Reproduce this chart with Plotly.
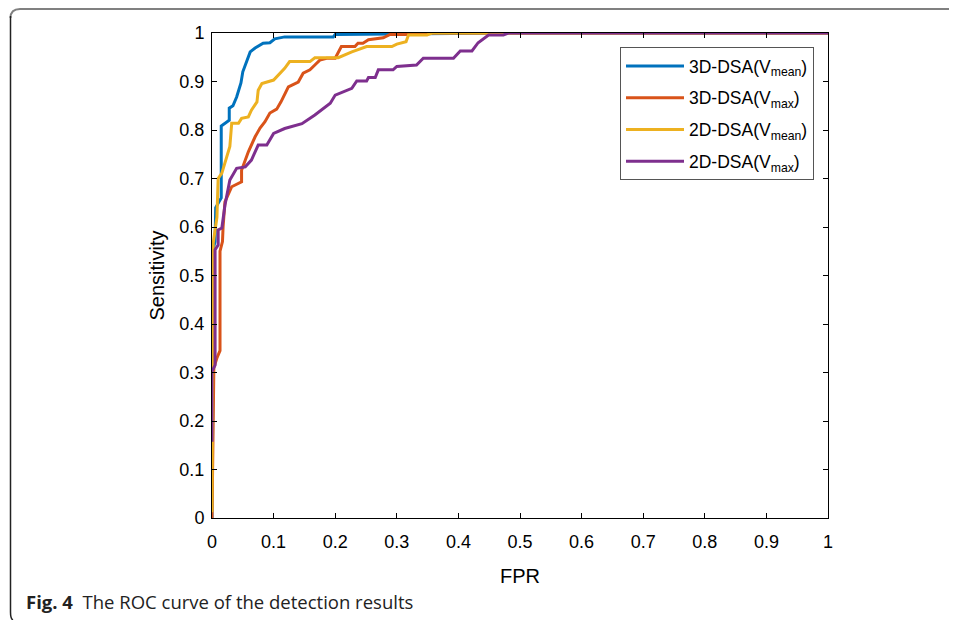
import plotly.graph_objects as go

# ---- data ----
series_names = ["3D-DSA(V<sub>mean</sub>)", "3D-DSA(V<sub>max</sub>)",
                "2D-DSA(V<sub>mean</sub>)", "2D-DSA(V<sub>max</sub>)"]
series_colors = ["#0072BD", "#D95319", "#EDB120", "#7E2F8E"]

fpr_3d_mean = [0, 0, 0.003, 0.005, 0.006, 0.015, 0.015, 0.028, 0.028, 0.034, 0.04, 0.047,
               0.05, 0.062, 0.07, 0.083, 0.094, 0.102, 0.118, 0.197, 0.2, 0.5, 1]
tpr_3d_mean = [0, 0.01, 0.56, 0.57, 0.64, 0.66, 0.808, 0.82, 0.845, 0.85, 0.868, 0.897,
               0.92, 0.961, 0.969, 0.979, 0.98, 0.988, 0.992, 0.992, 0.997, 1.0, 1.0]

fpr_3d_max = [0, 0.003, 0.008, 0.013, 0.013, 0.017, 0.018, 0.021, 0.032, 0.048, 0.048, 0.052,
              0.059, 0.07, 0.078, 0.086, 0.094, 0.105, 0.112, 0.124, 0.14, 0.148, 0.159,
              0.167, 0.175, 0.186, 0.2, 0.21, 0.232, 0.237, 0.245, 0.254, 0.278, 0.289,
              0.34, 0.35, 1]
tpr_3d_max = [0, 0.31, 0.33, 0.345, 0.55, 0.57, 0.6, 0.652, 0.683, 0.693, 0.717, 0.73,
              0.755, 0.786, 0.804, 0.817, 0.835, 0.843, 0.858, 0.889, 0.899, 0.917, 0.924,
              0.934, 0.944, 0.948, 0.948, 0.972, 0.972, 0.979, 0.979, 0.986, 0.99, 0.997,
              0.997, 1.0, 1.0]

fpr_2d_mean = [0, 0.002, 0.008, 0.010, 0.016, 0.029, 0.032, 0.043, 0.048, 0.059, 0.064,
               0.073, 0.075, 0.081, 0.1, 0.11, 0.118, 0.126, 0.159, 0.167, 0.205, 0.227,
               0.251, 0.292, 0.3, 0.315, 0.319, 0.349, 0.357, 1]
tpr_2d_mean = [0.012, 0.567, 0.62, 0.70, 0.711, 0.766, 0.814, 0.814, 0.824, 0.827, 0.841,
               0.858, 0.882, 0.896, 0.903, 0.917, 0.927, 0.941, 0.941, 0.949, 0.949, 0.961,
               0.972, 0.972, 0.977, 0.982, 0.996, 0.996, 1.0, 1.0]

fpr_2d_max = [0, 0, 0.005, 0.005, 0.01, 0.01, 0.016, 0.021, 0.029, 0.04, 0.054, 0.064, 0.07,
              0.075, 0.089, 0.1, 0.118, 0.137, 0.146, 0.167, 0.192, 0.2, 0.227, 0.235,
              0.251, 0.254, 0.265, 0.27, 0.294, 0.3, 0.332, 0.343, 0.392, 0.403, 0.422,
              0.432, 0.449, 0.473, 0.481, 1]
tpr_2d_max = [0.157, 0.302, 0.315, 0.553, 0.563, 0.594, 0.598, 0.645, 0.697, 0.721, 0.724,
              0.738, 0.755, 0.769, 0.769, 0.793, 0.803, 0.81, 0.813, 0.831, 0.855, 0.872,
              0.886, 0.901, 0.901, 0.908, 0.908, 0.924, 0.924, 0.931, 0.934, 0.948, 0.948,
              0.963, 0.963, 0.98, 0.996, 0.996, 1.0, 1.0]

tick_vals = [0, 0.1, 0.2, 0.3, 0.4, 0.5, 0.6, 0.7, 0.8, 0.9, 1]
tick_text = ["0", "0.1", "0.2", "0.3", "0.4", "0.5", "0.6", "0.7", "0.8", "0.9", "1"]

x_title = "FPR"
y_title = "Sensitivity"
caption = "<b>Fig. 4</b>  The ROC curve of the detection results"

# ---- figure ----
# the page body has an 8px margin, so the figure is placed at (8, 8) in the window
OFF = 8
PAGE_W, PAGE_H = 957, 620
W, H = PAGE_W - OFF, PAGE_H - OFF
# plot area in window pixels: x 212..828, y 33..518
L, T = 212 - OFF, 33 - OFF
R = W - (828 - OFF)
B = H - (518 - OFF)
PW, PH = W - L - R, H - T - B

def px(x):  # window px -> paper x
    return (x - OFF - L) / PW

def py(y):  # window px -> paper y
    return (H - B - (y - OFF)) / PH

fig = go.Figure()
xs = [fpr_3d_mean, fpr_3d_max, fpr_2d_mean, fpr_2d_max]
ys = [tpr_3d_mean, tpr_3d_max, tpr_2d_mean, tpr_2d_max]
for i, (name, color, x, y) in enumerate(zip(series_names, series_colors, xs, ys)):
    fig.add_trace(go.Scatter(x=x, y=y, mode="lines", name=name, legendgroup=f"g{i}",
                             line=dict(color=color, width=3), cliponaxis=False))

axis_common = dict(
    range=[0, 1], tickmode="array", tickvals=tick_vals, ticktext=tick_text,
    ticks="inside", ticklen=5, tickcolor="black", tickwidth=1,
    showline=True, linecolor="black", linewidth=1, mirror="ticks",
    showgrid=False, zeroline=False,
    tickfont=dict(family="Liberation Sans, Arial", size=18, color="black"),
)

fig.update_layout(
    width=W, height=H,
    margin=dict(l=L, r=R, t=T, b=B, autoexpand=False),
    paper_bgcolor="white", plot_bgcolor="white",
    xaxis=dict(**axis_common, ticklabelstandoff=7,
               title=dict(text=x_title, standoff=18,
                          font=dict(family="Liberation Sans, Arial", size=20, color="black"))),
    yaxis=dict(**axis_common, ticklabelstandoff=3,
               title=dict(text=y_title, standoff=9,
                          font=dict(family="Liberation Sans, Arial", size=20, color="black"))),
    legend=dict(x=px(620), y=py(47), xanchor="left", yanchor="top",
                bgcolor="white", bordercolor="#555555", borderwidth=1,
                font=dict(family="Liberation Sans, Arial", size=17.5, color="black"),
                itemwidth=58, traceorder="grouped", tracegroupgap=6),
    showlegend=True,
)

# outer frame (decorative rounded border of the figure panel)
fig.add_shape(type="path", xref="paper", yref="paper",
              path=f"M {px(957)},{py(9)} L {px(20)},{py(9)} Q {px(10.5)},{py(9)} {px(10.5)},{py(18)}",
              line=dict(color="#808080", width=2))
fig.add_shape(type="path", xref="paper", yref="paper",
              path=f"M {px(10.5)},{py(16)} L {px(10.5)},{py(612)} Q {px(10.5)},{py(619)} {px(13)},{py(620)}",
              line=dict(color="#222222", width=1.5))

fig.add_annotation(text=caption, xref="paper", yref="paper",
                   x=px(24), y=py(601), xanchor="left", yanchor="middle",
                   showarrow=False,
                   font=dict(family="Open Sans", size=18.5, color="#222222"))

fig.write_html("out.html")
